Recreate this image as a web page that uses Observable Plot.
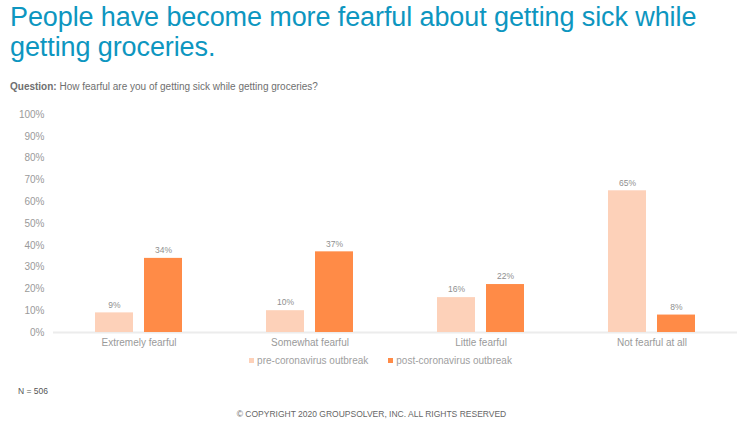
<!DOCTYPE html>
<html>
<head>
<meta charset="utf-8">
<script src="https://cdn.jsdelivr.net/npm/d3@7"></script>
<script src="https://cdn.jsdelivr.net/npm/@observablehq/plot@0.6"></script>
<style>
  html, body { margin: 0; padding: 0; background: #fff; }
  body { width: 743px; height: 427px; position: relative; overflow: hidden;
         font-family: "Liberation Sans", Arial, sans-serif; }
  #title { position: absolute; left: 10px; top: 2px; margin: 0; font-weight: normal;
           font-size: 27px; line-height: 30px; color: #0d96c0; letter-spacing: -0.1px; }
  #question { position: absolute; left: 10px; top: 81px; font-size: 10px; color: #6f6f6f; }
  #question b { color: #6f6f6f; }
  #chart { position: absolute; left: 0; top: 100px; }
  #legend { position: absolute; top: 355px; left: 0; width: 743px; display: flex;
            justify-content: center; gap: 20px; font-size: 10px; color: #a0a0a0; padding-left: 18px; box-sizing: border-box; }
  #legend span.sw { display: inline-block; width: 5px; height: 5px; margin-right: 3px; vertical-align: 1px; }
  #n { position: absolute; left: 18px; top: 386px; font-size: 8.5px; color: #555; }
  #copy { position: absolute; left: 0; width: 743px; text-align: center; top: 409px;
          font-size: 8.5px; color: #666; }
</style>
</head>
<body>
<h1 id="title">People have become more fearful about getting sick while<br>getting groceries.</h1>
<div id="question"><b>Question:</b> How fearful are you of getting sick while getting groceries?</div>
<div id="chart"></div>
<div id="legend"></div>
<div id="n">N = 506</div>
<div id="copy">© COPYRIGHT 2020 GROUPSOLVER, INC. ALL RIGHTS RESERVED</div>
<script>
// Answer categories and the two survey waves
const categories = ["Extremely fearful", "Somewhat fearful", "Little fearful", "Not fearful at all"];
const seriesNames = ["pre-coronavirus outbreak", "post-coronavirus outbreak"];
const preOutbreak = [9, 10, 16, 65];
const postOutbreak = [34, 37, 22, 8];
const yTicks = [0, 10, 20, 30, 40, 50, 60, 70, 80, 90, 100];
const seriesColors = ["#fdd1b9", "#ff8b47"];

const rows = categories.flatMap((c, i) => [
  {category: c, series: seriesNames[0], value: preOutbreak[i]},
  {category: c, series: seriesNames[1], value: postOutbreak[i]}
]);

const chart = Plot.plot({
  width: 743,
  height: 252,
  marginLeft: 52,
  marginRight: 6,
  marginTop: 14,
  marginBottom: 20,
  style: {fontFamily: "Liberation Sans, Arial, sans-serif", fontSize: "10px", color: "#9a9a9a", background: "transparent"},
  fx: {domain: categories, padding: 0, tickSize: 0, tickPadding: 6, label: null},
  x: {domain: seriesNames, paddingInner: 0.2245, paddingOuter: 0.857, axis: null},
  y: {domain: [0, 100], ticks: yTicks, tickFormat: d => d + "%", tickSize: 0, tickPadding: 9, label: null},
  color: {domain: seriesNames, range: seriesColors},
  facet: {data: rows, x: "category"},
  marks: [
    Plot.ruleY([0], {stroke: "#ececec", strokeWidth: 2}),
    Plot.barY(rows, {x: "series", y: "value", fill: "series"}),
    Plot.text(rows, {x: "series", y: "value", text: d => d.value + "%", dy: -8, fill: "#8f8f8f", fontSize: 8.5})
  ]
});
document.getElementById("chart").appendChild(chart);

// Legend
const legend = document.getElementById("legend");
seriesNames.forEach((s, i) => {
  const item = document.createElement("div");
  item.innerHTML = `<span class="sw" style="background:${seriesColors[i]}"></span>${s}`;
  legend.appendChild(item);
});
</script>
</body>
</html>
